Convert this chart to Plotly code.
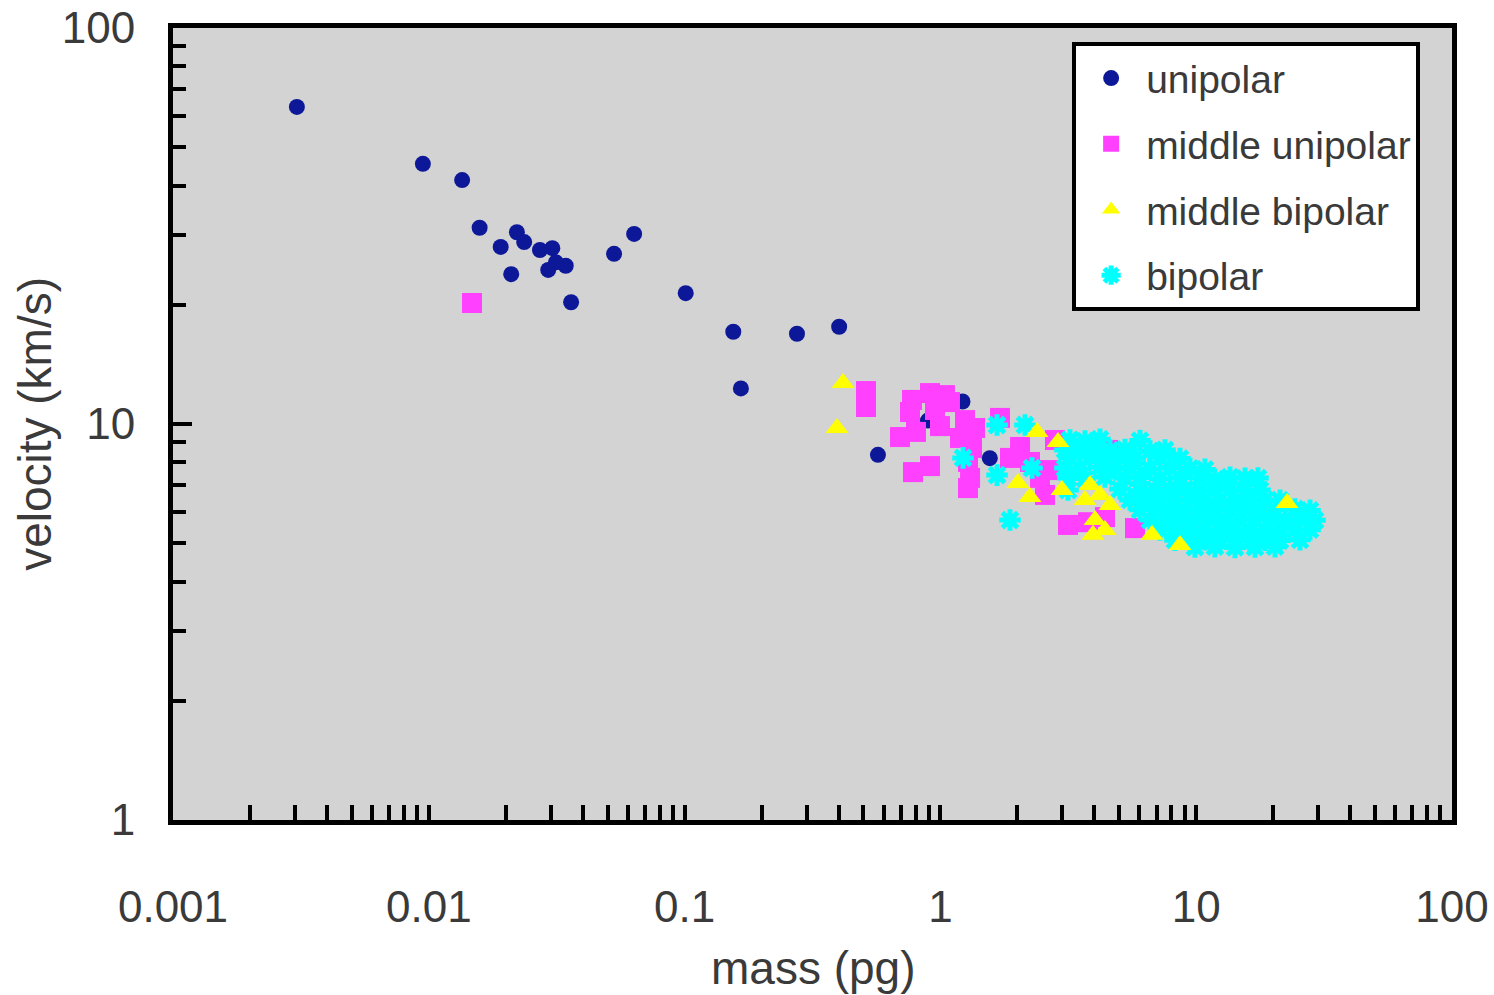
import plotly.graph_objects as go

# ---------------- data ----------------
uni_mass = [0.00305, 0.00948, 0.0135, 0.0158, 0.0191, 0.0210, 0.0221, 0.0236, 0.0272,
            0.0304, 0.0293, 0.0314, 0.0343, 0.0360, 0.0530, 0.0635, 0.101, 0.155,
            0.166, 0.275, 0.402, 0.570, 1.22, 0.894, 1.56]
uni_vel = [63.2, 45.4, 41.3, 31.3, 28.0, 23.9, 30.5, 28.8, 27.5,
           27.8, 24.5, 25.6, 25.1, 20.3, 26.9, 30.2, 21.4, 17.1,
           12.3, 16.9, 17.6, 8.36, 11.4, 10.2, 8.2]

mid_uni_mass = [0.01475, 0.512, 0.512, 0.7745, 0.9108, 1.042, 0.7606, 0.9526, 1.090,
                0.6952, 0.8026, 0.9963, 0.7815, 0.9108, 1.248, 1.366, 1.193, 1.329,
                1.282, 1.306, 1.282, 1.871, 2.240, 2.451, 2.564, 2.806, 2.683, 2.048,
                3.154, 4.521, 5.765, 3.776, 4.400, 1.710]
mid_uni_vel = [20.21, 12.11, 11.04, 11.50, 11.97, 11.83, 10.72, 10.85, 11.36,
               9.27, 9.55, 9.88, 7.56, 7.83, 10.23, 9.77, 9.22, 8.70,
               8.02, 7.31, 6.89, 8.21, 8.02, 7.31, 6.62, 9.11, 7.65, 8.75,
               5.56, 8.60, 5.46, 5.65, 5.82, 10.36]

mid_bi_mass = [0.4162, 0.3943, 2.386, 2.882, 2.011, 2.240, 2.988, 3.844, 4.206,
               3.675, 4.603, 4.021, 4.400, 3.950, 22.65, 6.718, 8.644]
mid_bi_vel = [12.69, 9.77, 9.55, 9.01, 7.10, 6.54, 6.81, 7.01, 6.62,
              6.43, 6.24, 5.72, 5.40, 5.25, 6.32, 5.25, 4.95]

bi_mass = [1.665, 2.142, 1.226, 1.665, 2.281, 1.871,
           3.211, 3.675, 4.206, 6.030,
           3.070, 3.514, 4.021, 4.603, 5.268, 6.598, 7.551,
           3.211, 3.844, 4.400, 5.036, 5.765, 7.220, 8.644,
           3.070, 3.514, 4.206, 4.815, 5.511, 6.598, 7.900, 9.458, 10.82,
           3.154, 3.675, 4.400, 5.268, 6.030, 7.220, 8.644, 10.35, 11.84, 13.56, 15.52, 17.44,
           3.154, 5.036, 6.030, 6.902, 7.900, 9.042, 10.35, 11.84, 13.56, 15.52, 17.76,
           5.511, 6.308, 7.220, 8.263, 9.458, 10.82, 12.39, 14.18, 16.23, 18.58, 21.26,
           6.030, 6.902, 7.900, 9.042, 10.35, 11.84, 13.56, 15.52, 17.76, 20.33, 24.34, 27.86,
           6.598, 7.551, 8.644, 9.892, 11.32, 12.96, 14.83, 16.98, 19.43, 22.24, 25.46, 29.14,
           7.220, 8.263, 9.458, 10.82, 12.39, 14.18, 16.23, 18.58, 21.26, 24.34, 27.86,
           8.263, 9.458, 10.82, 12.39, 14.18, 16.23, 18.58, 21.26, 25.46,
           9.892, 11.84, 14.18, 16.98, 20.33]
bi_vel = [9.94, 9.94, 8.21, 7.43, 7.74, 5.72,
          9.11, 9.05, 9.15, 9.08,
          8.60, 8.55, 8.65, 8.58, 8.62, 8.55, 8.60,
          8.21, 8.25, 8.18, 8.22, 8.20, 8.24, 8.18,
          7.74, 7.70, 7.78, 7.72, 7.76, 7.70, 7.75, 7.72, 7.68,
          7.31, 7.28, 7.35, 7.30, 7.33, 7.27, 7.32, 7.30, 7.25, 7.34, 7.29, 7.30,
          6.81, 6.85, 6.78, 6.83, 6.80, 6.86, 6.79, 6.82, 6.84, 6.78, 6.81,
          6.43, 6.40, 6.46, 6.42, 6.45, 6.41, 6.44, 6.40, 6.46, 6.43, 6.42,
          6.07, 6.10, 6.04, 6.08, 6.05, 6.09, 6.06, 6.08, 6.04, 6.07, 6.10, 6.05,
          5.72, 5.70, 5.75, 5.71, 5.74, 5.70, 5.73, 5.72, 5.75, 5.70, 5.73, 5.71,
          5.40, 5.42, 5.38, 5.41, 5.39, 5.43, 5.40, 5.38, 5.42, 5.40, 5.41,
          5.09, 5.07, 5.10, 5.08, 5.11, 5.07, 5.09, 5.08, 5.10,
          4.89, 4.90, 4.88, 4.89, 4.90]

x_tick_vals = [0.001, 0.01, 0.1, 1, 10, 100]
x_tick_text = ["0.001", "0.01", "0.1", "1", "10", "100"]
x_minor_vals = [m * d for d in [0.001, 0.01, 0.1, 1, 10] for m in range(2, 10)]
y_tick_vals = [1, 10, 100]
y_tick_text = ["1", "10", "100"]
y_minor_vals = [m * d for d in [1, 10] for m in range(2, 10)]

TEXT = "#3a3a3a"
FONT = "Liberation Sans, Arial, sans-serif"

fig = go.Figure()
fig.add_trace(go.Scatter(x=uni_mass, y=uni_vel, mode="markers", name="unipolar",
                         legendrank=1, legendgroup="a",
                         marker=dict(symbol="circle", size=16, color="#0d1899")))
fig.add_trace(go.Scatter(x=mid_uni_mass, y=mid_uni_vel, mode="markers", name="middle unipolar",
                         legendrank=2, legendgroup="b",
                         marker=dict(symbol="square", size=20, color="#ff40ff")))
fig.add_trace(go.Scatter(x=bi_mass, y=bi_vel, mode="markers", name="bipolar",
                         legendrank=4, legendgroup="d",
                         marker=dict(symbol="asterisk-open", size=18, color="#00ffff",
                                     line=dict(color="#00ffff", width=5))))
fig.add_trace(go.Scatter(x=mid_bi_mass, y=mid_bi_vel, mode="markers", name="middle bipolar",
                         legendrank=3, legendgroup="c",
                         marker=dict(symbol="triangle-up", size=20, color="#ffff00")))

axis_common = dict(type="log", showgrid=False, zeroline=False, showline=True,
                   linecolor="black", linewidth=5, mirror=True, automargin=False,
                   ticks="inside", tickcolor="black", tickwidth=4,
                   tickfont=dict(size=44, color=TEXT, family=FONT))

fig.update_xaxes(**axis_common, range=[-3, 2], tickmode="array",
                 tickvals=x_tick_vals, ticktext=x_tick_text, ticklen=15,
                 ticklabelstandoff=44,
                 minor=dict(tickmode="array", tickvals=x_minor_vals, ticks="inside",
                            ticklen=15, tickwidth=4, tickcolor="black", showgrid=False))
fig.update_yaxes(**axis_common, range=[0, 2], tickmode="array",
                 tickvals=y_tick_vals, ticktext=y_tick_text, ticklen=19,
                 ticklabelstandoff=24,
                 minor=dict(tickmode="array", tickvals=y_minor_vals, ticks="inside",
                            ticklen=13, tickwidth=4, tickcolor="black", showgrid=False))

fig.update_layout(
    width=1494, height=995,
    margin=dict(l=173, r=42, t=28, b=175, autoexpand=False),
    paper_bgcolor="white", plot_bgcolor="#d3d3d3",
    font=dict(family=FONT, color=TEXT),
    legend=dict(x=0.703, y=0.982, xanchor="left", yanchor="top",
                bgcolor="white", bordercolor="black", borderwidth=4,
                font=dict(size=39, color=TEXT, family=FONT),
                traceorder="grouped", tracegroupgap=12, itemwidth=60,
                entrywidth=316, entrywidthmode="pixels"),
    annotations=[
        dict(text="mass (pg)", xref="paper", yref="paper", x=0.5, y=-0.187,
             xanchor="center", yanchor="middle", showarrow=False,
             font=dict(size=46, color=TEXT, family=FONT)),
        dict(text="velocity (km/s)", xref="paper", yref="paper", x=-0.108, y=0.5,
             xanchor="center", yanchor="middle", textangle=-90, showarrow=False,
             font=dict(size=46, color=TEXT, family=FONT)),
    ],
)

fig.write_html("out.html")
